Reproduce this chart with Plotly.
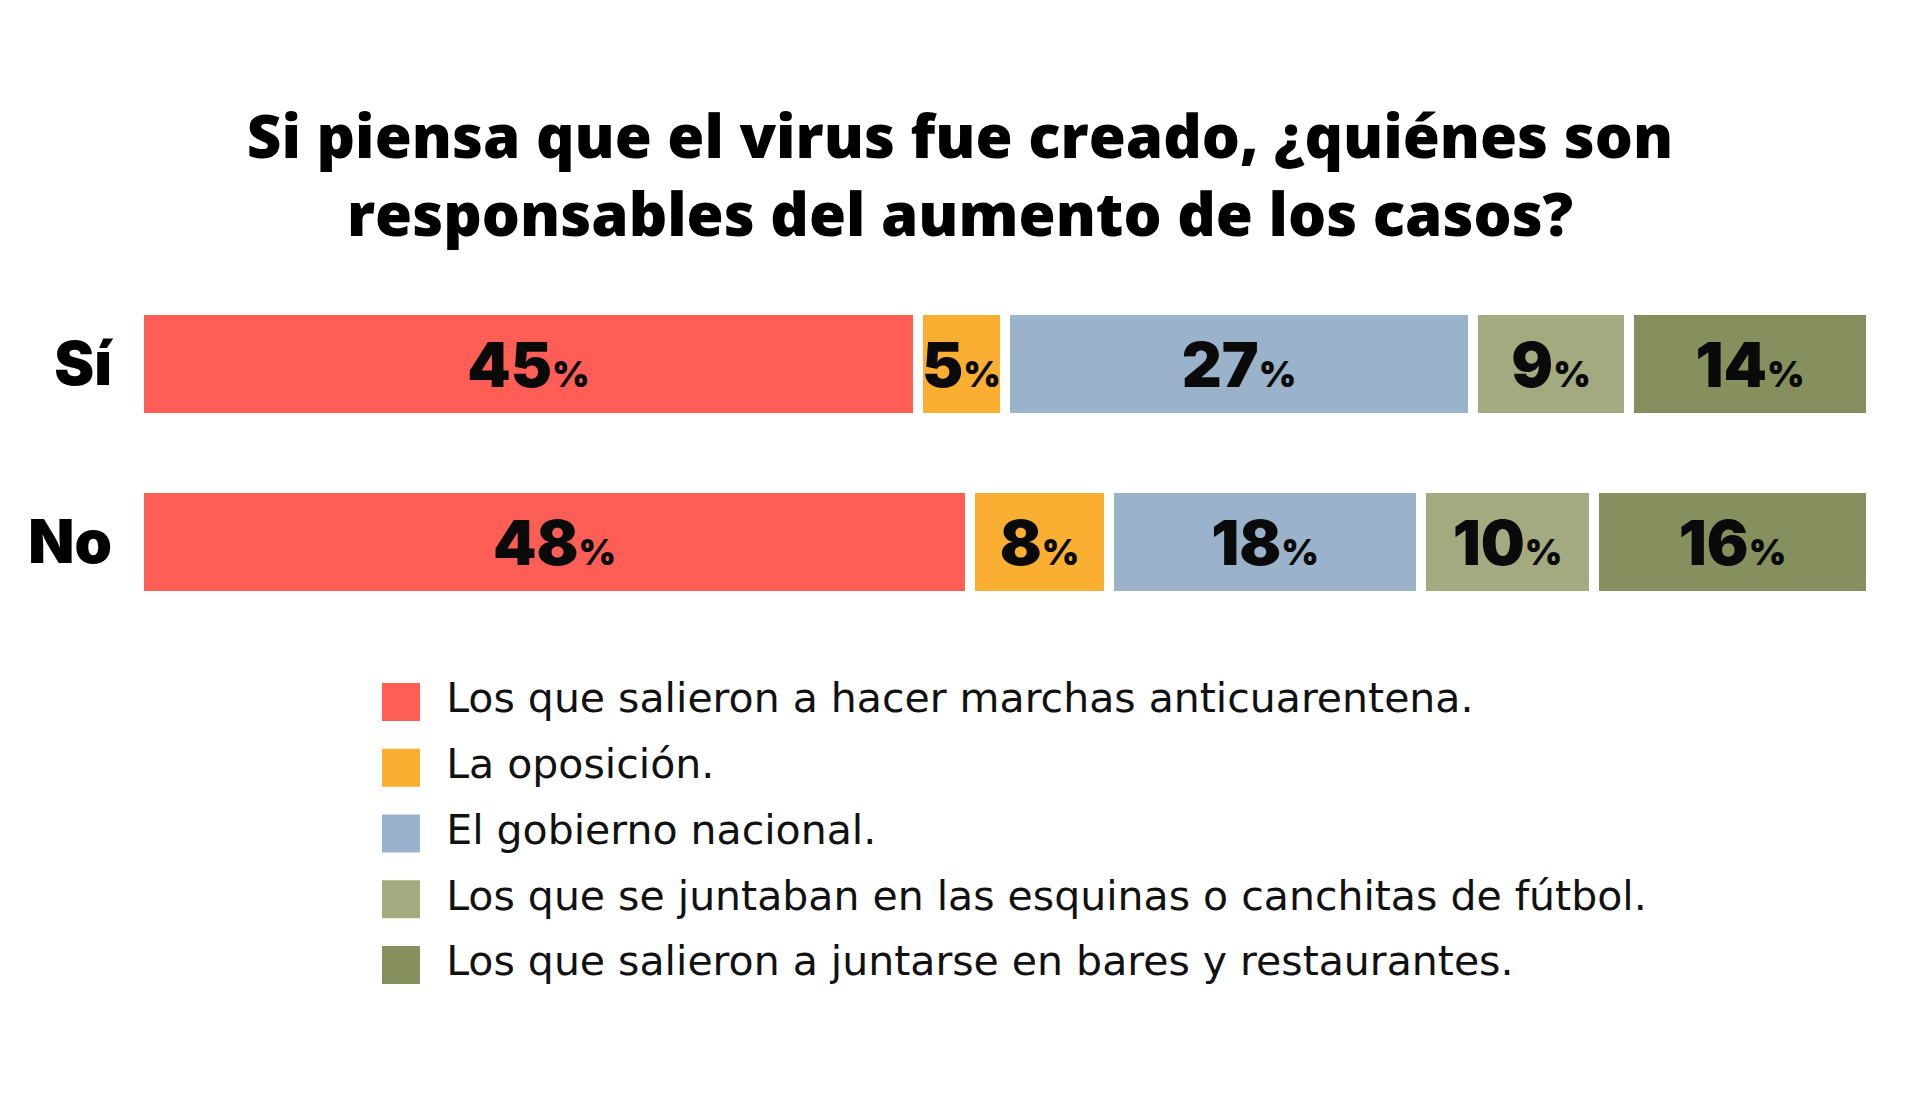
import plotly.graph_objects as go

# ---- data ----
groups = ["Sí", "No"]
categories = [
    "Los que salieron a hacer marchas anticuarentena.",
    "La oposición.",
    "El gobierno nacional.",
    "Los que se juntaban en las esquinas o canchitas de fútbol.",
    "Los que salieron a juntarse en bares y restaurantes.",
]
si_values = [45, 5, 27, 9, 14]
no_values = [48, 8, 18, 10, 16]
colors = ["#FF5E57", "#FBAF32", "#9AB3CB", "#A3AA7F", "#868F5E"]
title_text = "Si piensa que el virus fue creado, ¿quiénes son<br>responsables del aumento de los casos?"

W, H = 1920, 1100
heavy = "Inter"

fig = go.Figure()

for cat, sv, nv, col in zip(categories, si_values, no_values, colors):
    vals = [sv, nv]
    fig.add_trace(go.Bar(
        y=groups, x=vals, orientation="h", name=cat,
        marker=dict(color=col, line=dict(color="white", width=10)),
        width=0.61,
        text=[f"{v}<span style='font-size:36px'>%</span>" for v in vals],
        textposition="inside", insidetextanchor="middle", constraintext="none",
        textangle=0,
        insidetextfont=dict(family=heavy, size=62, color="#0a0a0a", weight=900),
        showlegend=False, hoverinfo="skip",
    ))

# legend drawn as a scatter on its own axes
fig.add_trace(go.Scatter(
    x=[0] * len(categories), y=categories, mode="markers+text",
    marker=dict(symbol="square", size=38, color=colors, line=dict(width=0)),
    text=["\u2002" + c for c in categories], textposition="middle right",
    textfont=dict(family="DejaVu Sans", size=41, color="#111111"),
    xaxis="x2", yaxis="y2", showlegend=False, hoverinfo="skip", cliponaxis=False,
))

fig.update_layout(
    width=W, height=H,
    margin=dict(l=0, r=0, t=0, b=0),
    paper_bgcolor="white", plot_bgcolor="white",
    barmode="stack", bargap=0,
    title=dict(text=title_text, x=0.5, xanchor="center", y=1 - 158 / H, yanchor="middle",
               font=dict(family="Open Sans", size=60, color="#000000", weight=800)),
    xaxis=dict(domain=[139 / W, 1871 / W], range=[0, 100], visible=False, fixedrange=True),
    yaxis=dict(domain=[1 - 631 / H, 1 - 275 / H], range=[1.5, -0.5], showgrid=False,
               zeroline=False, showline=False, ticks="", ticklabelstandoff=26,
               tickfont=dict(family=heavy, size=60, color="#000000", weight=900)),
    xaxis2=dict(domain=[0, 1], range=[-401, W - 401], visible=False, anchor="y2"),
    yaxis2=dict(domain=[1 - 998 / H, 1 - 669 / H], range=[4.5, -0.5], visible=False,
                anchor="x2", type="category"),
    showlegend=False,
)

fig.write_html("out.html")
